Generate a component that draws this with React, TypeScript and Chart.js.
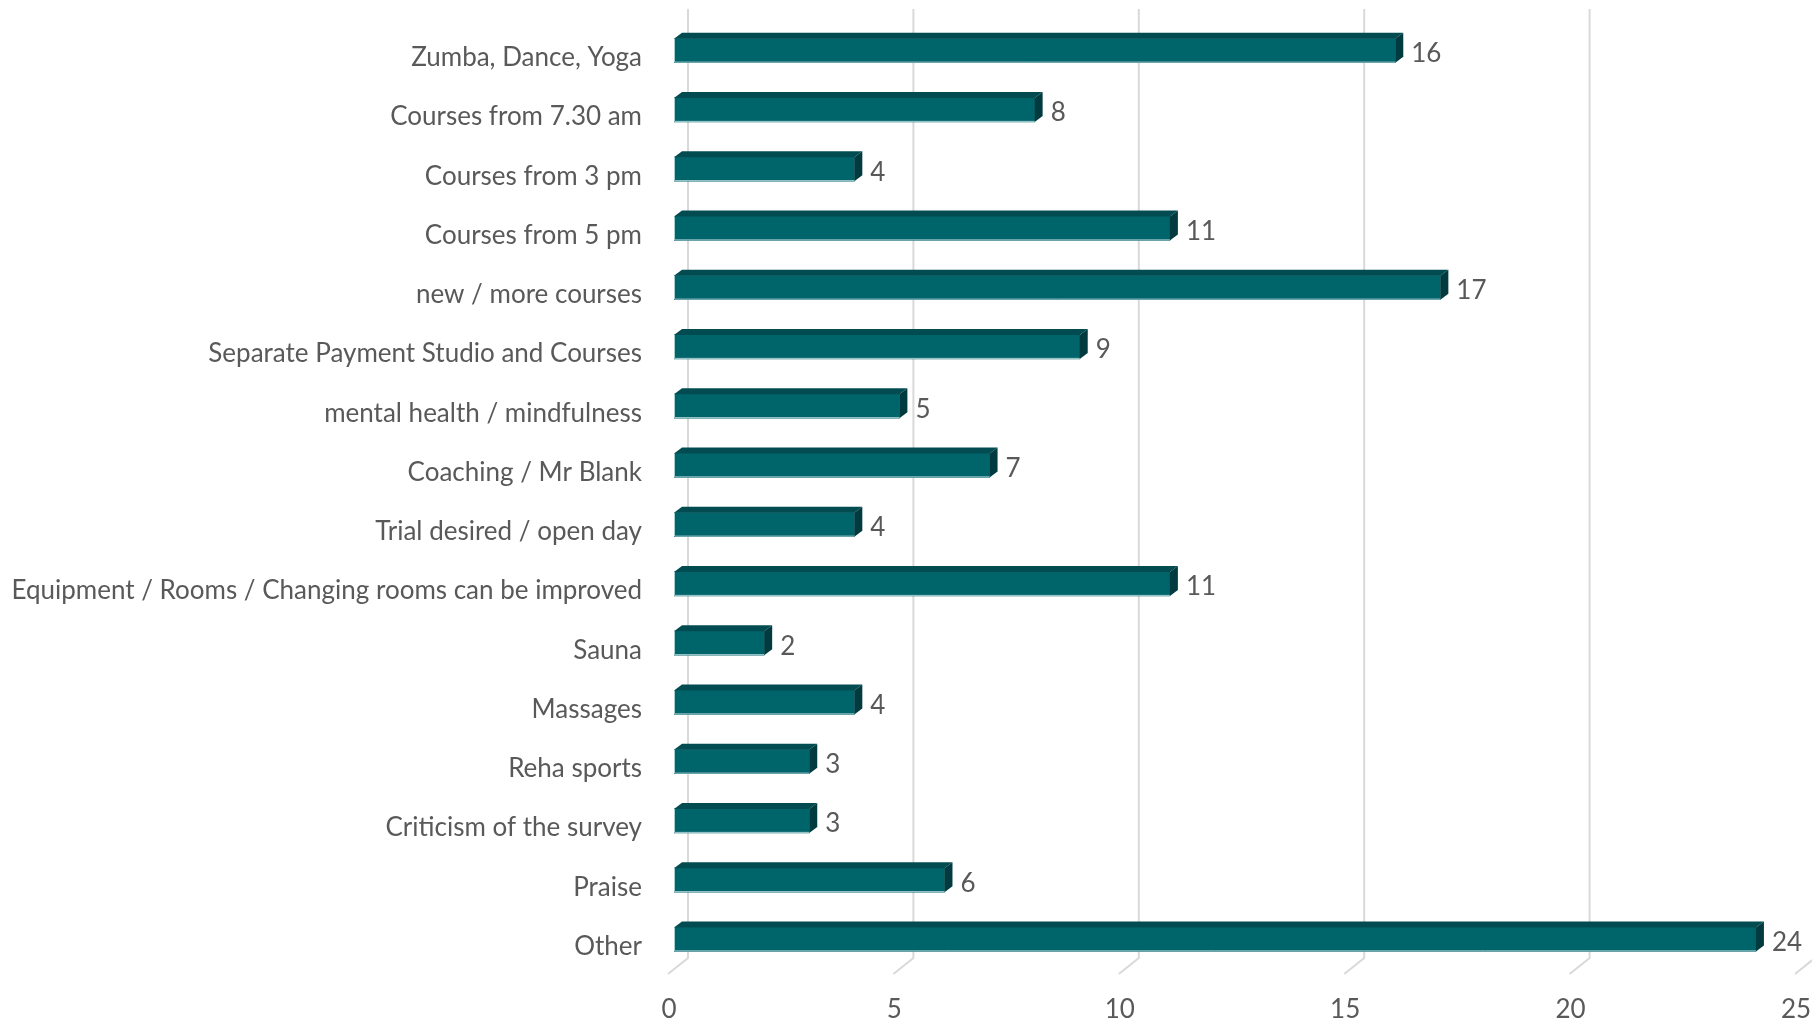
import React, { useEffect, useRef } from "react";
import { Chart, registerables } from "chart.js";

Chart.register(...registerables);

const categories = [
  "Zumba, Dance, Yoga",
  "Courses from 7.30 am",
  "Courses from 3 pm",
  "Courses from 5 pm",
  "new / more courses",
  "Separate Payment Studio and Courses",
  "mental health / mindfulness",
  "Coaching / Mr Blank",
  "Trial desired / open day",
  "Equipment / Rooms / Changing rooms can be improved",
  "Sauna",
  "Massages",
  "Reha sports",
  "Criticism of the survey",
  "Praise",
  "Other",
];
const values = [16, 8, 4, 11, 17, 9, 5, 7, 4, 11, 2, 4, 3, 3, 6, 24];
const xTicks = [0, 5, 10, 15, 20, 25];

const FRONT = "#00646B";
const TOP = "#024C51";
const SIDE = "#013B3F";
const EDGE = "#A9CED1";
const TEXT = "#595959";
const GRID = "#D9D9D9";
const FONT = "Lato, 'Open Sans', sans-serif";
const FONT_SIZE = 26;

const DX = 8;
const DY = 6;
const WALL_DX = 14;

const bar3d = {
  id: "bar3d",
  beforeDatasetsDraw(chart: any) {
    const ctx = chart.ctx;
    const xs = chart.scales.x;
    const area = chart.chartArea;
    ctx.save();
    ctx.strokeStyle = GRID;
    ctx.lineWidth = 2;
    xTicks.forEach((v) => {
      const x = xs.getPixelForValue(v) + WALL_DX;
      ctx.beginPath();
      ctx.moveTo(x, area.top - 12);
      ctx.lineTo(x, area.bottom - 11);
      ctx.lineTo(x - 20, area.bottom + 5);
      ctx.stroke();
    });
    ctx.restore();
  },
  afterDatasetsDraw(chart: any) {
    const ctx = chart.ctx;
    const meta = chart.getDatasetMeta(0);
    ctx.save();
    meta.data.forEach((bar: any, i: number) => {
      const { x, y, base, height } = bar.getProps(["x", "y", "base", "height"], true);
      const top = y - height / 2;
      const bottom = y + height / 2;
      ctx.fillStyle = TOP;
      ctx.beginPath();
      ctx.moveTo(base, top);
      ctx.lineTo(base + DX, top - DY);
      ctx.lineTo(x + DX, top - DY);
      ctx.lineTo(x, top);
      ctx.closePath();
      ctx.fill();
      ctx.fillStyle = SIDE;
      ctx.beginPath();
      ctx.moveTo(x, top);
      ctx.lineTo(x + DX, top - DY);
      ctx.lineTo(x + DX, bottom - DY);
      ctx.lineTo(x, bottom);
      ctx.closePath();
      ctx.fill();
      ctx.strokeStyle = EDGE;
      ctx.lineWidth = 1;
      ctx.beginPath();
      ctx.moveTo(base + 0.5, top);
      ctx.lineTo(base + 0.5, bottom - 0.5);
      ctx.lineTo(x, bottom - 0.5);
      ctx.stroke();
      ctx.fillStyle = TEXT;
      ctx.font = `${FONT_SIZE}px ${FONT}`;
      ctx.textAlign = "left";
      ctx.textBaseline = "middle";
      ctx.fillText(String(values[i]), x + DX + 8, y + 3);
    });
    ctx.restore();
  },
};

export default function App() {
  const ref = useRef<HTMLCanvasElement>(null);
  useEffect(() => {
    if (!ref.current) return;
    const chart = new Chart(ref.current, {
      type: "bar",
      data: {
        labels: categories,
        datasets: [
          {
            data: values,
            backgroundColor: FRONT,
            borderWidth: 0,
            barThickness: 24,
          },
        ],
      },
      options: {
        indexAxis: "y",
        responsive: false,
        animation: false,
        devicePixelRatio: 1,
        layout: { padding: { top: 21, right: 11, left: 0, bottom: 0 } },
        plugins: { legend: { display: false }, tooltip: { enabled: false } },
        scales: {
          x: {
            min: 0,
            max: 25,
            grid: { display: false, drawTicks: false },
            border: { display: false },
            ticks: {
              stepSize: 5,
              color: TEXT,
              font: { family: FONT, size: FONT_SIZE },
              padding: 25,
              labelOffset: -5,
            },
            afterFit: (s: any) => {
              s.height = 51;
              s.paddingLeft = 0;
              s.paddingRight = 0;
            },
          },
          y: {
            type: "category",
            grid: { display: false, drawTicks: false },
            border: { display: false },
            ticks: {
              color: TEXT,
              font: { family: FONT, size: FONT_SIZE },
              padding: 32,
              labelOffset: 7,
              autoSkip: false,
            },
            afterFit: (s: any) => {
              s.width = 674;
              s.paddingTop = 0;
              s.paddingBottom = 0;
            },
          },
        },
      },
      plugins: [bar3d],
    });
    return () => chart.destroy();
  }, []);
  return (
    <div style={{ position: "fixed", left: 0, top: 0, width: 1812, height: 1020, background: "#fff" }}>
      <canvas ref={ref} width={1812} height={1020} />
    </div>
  );
}
